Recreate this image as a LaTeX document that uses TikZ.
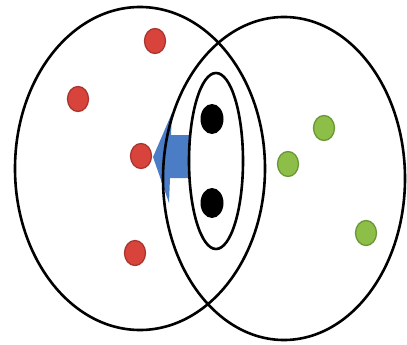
\documentclass[tikz,border=0pt]{standalone}
\begin{document}
\begin{tikzpicture}[x=1pt,y=-1pt]
\definecolor{redfill}{HTML}{D8443B}
\definecolor{redline}{HTML}{A83530}
\definecolor{greenfill}{HTML}{8DBE47}
\definecolor{greenline}{HTML}{6B9636}
\definecolor{arrowblue}{HTML}{4A7DC6}
\tikzset{
  ring/.style={draw=black,line width=2.6pt},
  rdot/.style={fill=redfill,draw=redline,line width=1.3pt},
  gdot/.style={fill=greenfill,draw=greenline,line width=1.3pt},
  bdot/.style={fill=black},
}
\useasboundingbox (0,0) rectangle (407,345);
% blue arrow
\fill[arrowblue] (153,157) -- (172,113) -- (171,135) -- (190,135) -- (190,178) -- (170,178) -- (169,203) -- cycle;
% big circles
\draw[ring] (140,168.5) ellipse [x radius=125, y radius=161.5];
\draw[ring] (284,178.5) ellipse [x radius=121, y radius=161.5];
% inner ellipse
\draw[ring] (216,161) ellipse [x radius=27, y radius=88];
% red dots
\draw[rdot] (155,41) ellipse [x radius=10.5, y radius=12.5];
\draw[rdot] (78,99) ellipse [x radius=10.5, y radius=12.5];
\draw[rdot] (141,156) ellipse [x radius=10.5, y radius=12.5];
\draw[rdot] (135,253) ellipse [x radius=10.5, y radius=12.5];
% green dots
\draw[gdot] (324,128) ellipse [x radius=10.5, y radius=12.5];
\draw[gdot] (288,164) ellipse [x radius=10.5, y radius=12.5];
\draw[gdot] (366,233) ellipse [x radius=10.5, y radius=12.5];
% black dots
\fill[bdot] (212,119) ellipse [x radius=11.5, y radius=15];
\fill[bdot] (212,203) ellipse [x radius=11.5, y radius=15];
\end{tikzpicture}
\end{document}
